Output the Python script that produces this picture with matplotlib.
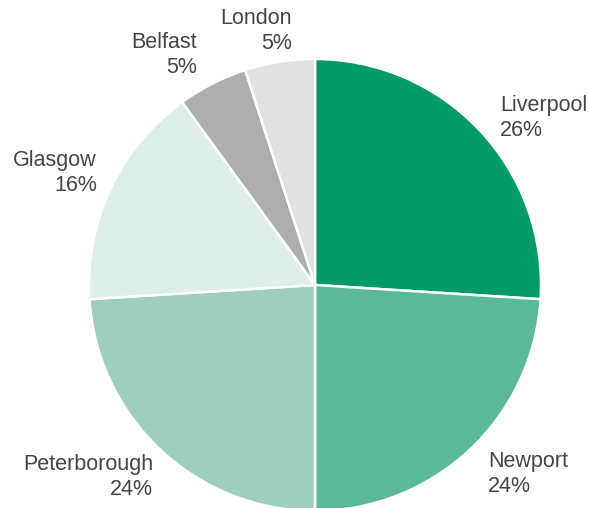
import matplotlib.pyplot as plt

# share of sites by city
cities = ["Liverpool", "Newport", "Peterborough", "Glasgow", "Belfast", "London"]
shares = [26, 24, 24, 16, 5, 5]
colors = ["#009B67", "#5BB99A", "#9ECFBC", "#DDEDE7", "#ADAEB0", "#E0E1E3"]

# label anchors in pixels (x, top y) and alignment
label_pos = [(500, 95, "left"), (488, 451, "left"), (153, 454, "right"),
             (97, 150, "right"), (197, 32, "right"), (292, 8, "right")]

W, H = 589, 508
fig = plt.figure(figsize=(W / 100, H / 100), dpi=100)
cx, cy, r = 315, 285, 226
ax = fig.add_axes([(cx - r) / W, (H - cy - r) / H, 2 * r / W, 2 * r / H])
ax.pie(shares, colors=colors, startangle=90, counterclock=False,
       wedgeprops=dict(edgecolor="white", linewidth=1.8))
ax.set_xlim(-1, 1)
ax.set_ylim(-1, 1)
ax.set_aspect("equal")
ax.axis("off")

for name, val, (x, y, ha) in zip(cities, shares, label_pos):
    fig.text(x / W, 1 - y / H, f"{name}\n{val}%", ha=ha, va="top",
             multialignment=ha, fontsize=15.5, color="#444444",
             family="Liberation Sans", linespacing=1.28)

fig.savefig("out.png", dpi=100)
